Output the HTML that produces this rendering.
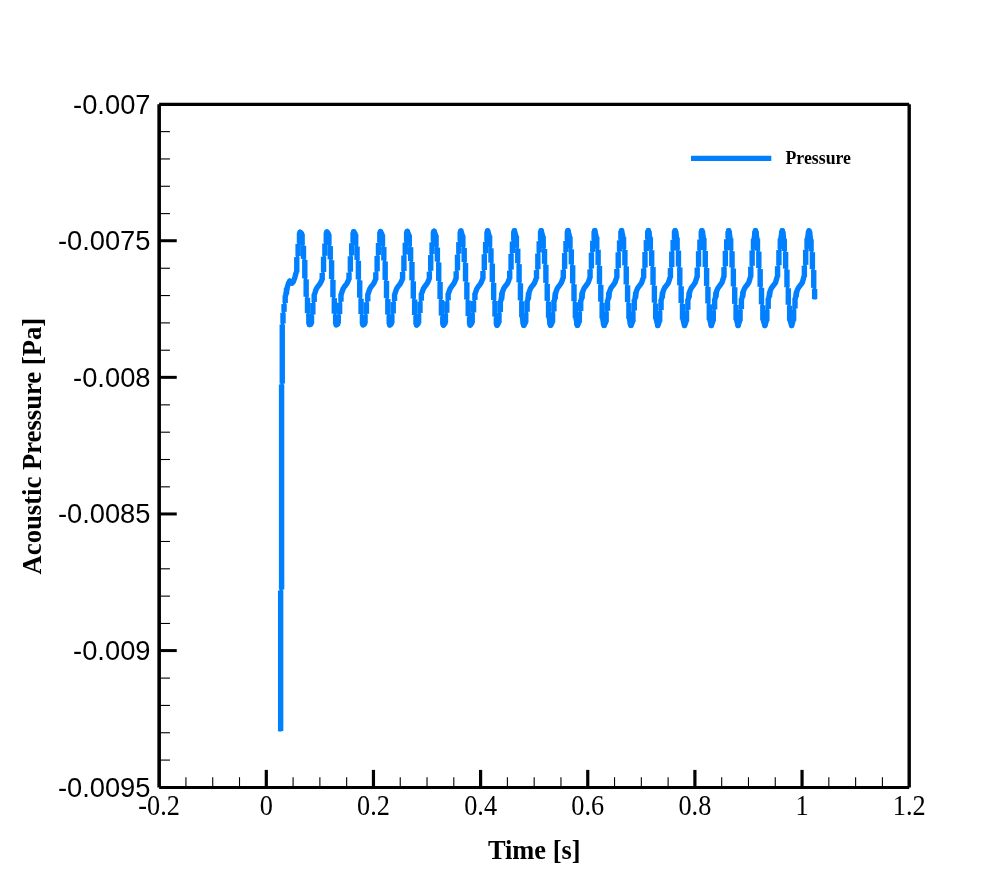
<!DOCTYPE html>
<html><head><meta charset="utf-8"><title>Acoustic Pressure</title>
<style>
html,body{margin:0;padding:0;background:#fff;}
body{width:1000px;height:889px;overflow:hidden;}
svg{display:block;will-change:transform;transform:translateZ(0);}
.ys{font-family:"Liberation Sans",sans-serif;font-size:27.3px;fill:#000;}
.xs{font-family:"Liberation Serif",serif;font-size:29.2px;fill:#000;}
.tt{font-family:"Liberation Serif",serif;font-weight:bold;font-size:27.35px;fill:#000;}
.lg{font-family:"Liberation Serif",serif;font-weight:bold;font-size:17.8px;fill:#000;}
</style></head><body>
<svg width="1000" height="889" viewBox="0 0 1000 889">
<rect width="1000" height="889" fill="#fff"/>
<path d="M285.80 294.80L287.20 287.50L288.60 283.00L289.80 281.20L291.90 283.10L293.50 281.50L294.80 277.50L296.11 272.76M300.12 232.32L301.46 233.36M309.50 324.59L310.84 324.30M314.86 293.28L316.20 289.07L317.54 286.87L318.88 285.25L320.21 283.34L321.55 280.72M326.91 232.07L328.25 233.57M336.29 324.69L337.63 324.19M341.64 293.12L342.98 288.99L344.32 286.83L345.66 285.21L347.00 283.28L348.34 280.57M353.70 231.82L355.04 233.80M363.07 324.79L364.41 324.07M368.43 292.96L369.77 288.92L371.11 286.79L372.45 285.16L373.79 283.22L375.13 280.42M380.48 231.59L381.82 234.04M389.86 324.88L391.20 323.95M395.21 292.80L396.55 288.85L397.89 286.74L399.23 285.11L400.57 283.16L401.91 280.26M407.27 231.37L408.61 234.29M416.64 324.97L417.98 323.82M422.00 292.65L423.34 288.78L424.68 286.70L426.02 285.06L427.36 283.10L428.70 280.10M434.05 231.18L435.39 234.55M443.43 325.04L444.77 323.69M448.79 292.50L450.13 288.71L451.46 286.66L452.80 285.02L454.14 283.04L455.48 279.93M460.84 231.00L462.18 234.81M470.21 325.12L471.55 323.55M475.57 292.36L476.91 288.64L478.25 286.62L479.59 284.97L480.93 282.99L482.27 279.76M487.63 230.86L488.96 235.09M497.00 325.18L498.34 323.40M501.02 300.18L502.36 292.22L503.70 288.57L505.04 286.57L506.38 284.92L507.71 282.94L509.05 279.59M514.41 230.74L515.75 235.38M522.45 317.56L523.79 325.24L525.13 323.24M527.80 299.88L529.14 292.08L530.48 288.50L531.82 286.53L533.16 284.87L534.50 282.89L535.84 279.42M541.20 230.66L542.54 235.67M549.23 318.03L550.57 325.30L551.91 323.08M554.59 299.59L555.93 291.94L557.27 288.44L558.61 286.49L559.95 284.83L561.29 282.84L562.62 279.24M567.98 230.61L569.32 235.97M576.02 318.48L577.36 325.35L578.70 322.91M581.37 299.30L582.71 291.81L584.05 288.37L585.39 286.45L586.73 284.78L588.07 282.80L589.41 279.06M594.77 230.60L596.11 236.27M602.80 318.90L604.14 325.39L605.48 322.73M608.16 299.03L609.50 291.68L610.84 288.31L612.18 286.41L613.52 284.73L614.86 282.75L616.20 278.87M621.55 230.60L622.89 236.59M629.59 319.30L630.93 325.42L632.27 322.55M634.95 298.77L636.29 291.55L637.62 288.25L638.96 286.37L640.30 284.68L641.64 282.70L642.98 278.69M648.34 230.61L649.68 236.90M656.37 319.68L657.71 325.45L659.05 322.35M661.73 298.51L663.07 291.43L664.41 288.19L665.75 286.33L667.09 284.64L668.43 282.66L669.77 278.49M675.12 230.63L676.46 237.22M683.16 320.02L684.50 325.47L685.84 322.15M688.52 298.25L689.86 291.31L691.20 288.13L692.54 286.29L693.87 284.59L695.21 282.61L696.55 278.30M701.91 230.65L703.25 237.55M709.95 320.33L711.29 325.49L712.62 321.94M715.30 298.00L716.64 291.19L717.98 288.07L719.32 286.25L720.66 284.54L722.00 282.57L723.34 278.10M728.70 230.69L730.04 237.88M736.73 320.64L738.07 325.50L739.41 321.72M742.09 297.75L743.43 291.08L744.77 288.01L746.11 286.21L747.45 284.49L748.79 282.52L750.12 277.90M754.14 238.46L755.48 230.73L756.82 238.21M763.52 320.92L764.86 325.50L766.20 321.49M768.87 297.50L770.21 290.96L771.55 287.95L772.89 286.17L774.23 284.44L775.57 282.47L776.91 277.69M780.93 238.15L782.27 230.78L783.61 238.54M790.30 321.20L791.64 325.50L792.98 321.26M795.66 297.26L797.00 290.85L798.34 287.89L799.68 286.12L801.02 284.39L802.36 282.42L803.70 277.48M807.71 237.84L809.05 230.85L810.39 238.87" fill="none" stroke="#007fff" stroke-width="5.4" stroke-linecap="round" stroke-linejoin="round"/>
<path d="M280.10 731.50L281.20 590.00L282.00 384.00L282.50 324.00L283.50 312.30L284.60 303.60L285.80 294.80L287.20 287.50L288.60 283.00L289.80 281.20L291.90 283.10L293.50 281.50L294.80 277.50L296.11 272.76L297.45 256.63L298.79 243.33L300.12 232.32L301.46 233.36L302.80 245.26L304.14 259.33L305.48 278.91L306.82 297.23L308.16 313.62L309.50 324.59L310.84 324.30L312.18 315.00L313.52 302.50L314.86 293.28L316.20 289.07L317.54 286.87L318.88 285.25L320.21 283.34L321.55 280.72L322.89 272.46L324.23 256.22L325.57 243.05L326.91 232.07L328.25 233.57L329.59 245.63L330.93 259.86L332.27 279.40L333.61 297.69L334.95 314.10L336.29 324.69L337.63 324.19L338.96 314.64L340.30 302.16L341.64 293.12L342.98 288.99L344.32 286.83L345.66 285.21L347.00 283.28L348.34 280.57L349.68 272.15L351.02 255.81L352.36 242.76L353.70 231.82L355.04 233.80L356.38 246.00L357.71 260.39L359.05 279.90L360.39 298.15L361.73 314.59L363.07 324.79L364.41 324.07L365.75 314.28L367.09 301.82L368.43 292.96L369.77 288.92L371.11 286.79L372.45 285.16L373.79 283.22L375.13 280.42L376.46 271.83L377.80 255.40L379.14 242.48L380.48 231.59L381.82 234.04L383.16 246.37L384.50 260.93L385.84 280.40L387.18 298.61L388.52 315.09L389.86 324.88L391.20 323.95L392.54 313.93L393.88 301.48L395.21 292.80L396.55 288.85L397.89 286.74L399.23 285.11L400.57 283.16L401.91 280.26L403.25 271.51L404.59 255.00L405.93 242.20L407.27 231.37L408.61 234.29L409.95 246.74L411.29 261.47L412.63 280.89L413.96 299.07L415.30 315.59L416.64 324.97L417.98 323.82L419.32 313.58L420.66 301.14L422.00 292.65L423.34 288.78L424.68 286.70L426.02 285.06L427.36 283.10L428.70 280.10L430.04 271.19L431.38 254.60L432.71 241.92L434.05 231.18L435.39 234.55L436.73 247.10L438.07 262.02L439.41 281.39L440.75 299.52L442.09 316.09L443.43 325.04L444.77 323.69L446.11 313.24L447.45 300.82L448.79 292.50L450.13 288.71L451.46 286.66L452.80 285.02L454.14 283.04L455.48 279.93L456.82 270.85L458.16 254.20L459.50 241.63L460.84 231.00L462.18 234.81L463.52 247.46L464.86 262.57L466.20 281.88L467.54 299.97L468.88 316.59L470.21 325.12L471.55 323.55L472.89 312.90L474.23 300.50L475.57 292.36L476.91 288.64L478.25 286.62L479.59 284.97L480.93 282.99L482.27 279.76L483.61 270.49L484.95 253.80L486.29 241.35L487.63 230.86L488.96 235.09L490.30 247.82L491.64 263.12L492.98 282.37L494.32 300.41L495.66 317.08L497.00 325.18L498.34 323.40L499.68 312.57L501.02 300.18L502.36 292.22L503.70 288.57L505.04 286.57L506.38 284.92L507.71 282.94L509.05 279.59L510.39 270.11L511.73 253.41L513.07 241.07L514.41 230.74L515.75 235.38L517.09 248.18L518.43 263.67L519.77 282.87L521.11 300.86L522.45 317.56L523.79 325.24L525.13 323.24L526.46 312.24L527.80 299.88L529.14 292.08L530.48 288.50L531.82 286.53L533.16 284.87L534.50 282.89L535.84 279.42L537.18 269.73L538.52 253.02L539.86 240.79L541.20 230.66L542.54 235.67L543.88 248.53L545.21 264.23L546.55 283.36L547.89 301.30L549.23 318.03L550.57 325.30L551.91 323.08L553.25 311.91L554.59 299.59L555.93 291.94L557.27 288.44L558.61 286.49L559.95 284.83L561.29 282.84L562.62 279.24L563.96 269.33L565.30 252.63L566.64 240.50L567.98 230.61L569.32 235.97L570.66 248.88L572.00 264.78L573.34 283.85L574.68 301.74L576.02 318.48L577.36 325.35L578.70 322.91L580.04 311.58L581.37 299.30L582.71 291.81L584.05 288.37L585.39 286.45L586.73 284.78L588.07 282.80L589.41 279.06L590.75 268.91L592.09 252.25L593.43 240.22L594.77 230.60L596.11 236.27L597.45 249.22L598.79 265.34L600.12 284.34L601.46 302.17L602.80 318.90L604.14 325.39L605.48 322.73L606.82 311.26L608.16 299.03L609.50 291.68L610.84 288.31L612.18 286.41L613.52 284.73L614.86 282.75L616.20 278.87L617.54 268.49L618.87 251.87L620.21 239.93L621.55 230.60L622.89 236.59L624.23 249.55L625.57 265.89L626.91 284.84L628.25 302.61L629.59 319.30L630.93 325.42L632.27 322.55L633.61 310.93L634.95 298.77L636.29 291.55L637.62 288.25L638.96 286.37L640.30 284.68L641.64 282.70L642.98 278.69L644.32 268.05L645.66 251.49L647.00 239.64L648.34 230.61L649.68 236.90L651.02 249.87L652.36 266.43L653.70 285.33L655.04 303.04L656.37 319.68L657.71 325.45L659.05 322.35L660.39 310.61L661.73 298.51L663.07 291.43L664.41 288.19L665.75 286.33L667.09 284.64L668.43 282.66L669.77 278.49L671.11 267.61L672.45 251.11L673.79 239.35L675.12 230.63L676.46 237.22L677.80 250.19L679.14 266.98L680.48 285.82L681.82 303.47L683.16 320.02L684.50 325.47L685.84 322.15L687.18 310.28L688.52 298.25L689.86 291.31L691.20 288.13L692.54 286.29L693.87 284.59L695.21 282.61L696.55 278.30L697.89 267.15L699.23 250.74L700.57 239.06L701.91 230.65L703.25 237.55L704.59 250.51L705.93 267.51L707.27 286.32L708.61 303.90L709.95 320.33L711.29 325.49L712.62 321.94L713.96 309.96L715.30 298.00L716.64 291.19L717.98 288.07L719.32 286.25L720.66 284.54L722.00 282.57L723.34 278.10L724.68 266.69L726.02 250.37L727.36 238.76L728.70 230.69L730.04 237.88L731.37 250.82L732.71 268.04L734.05 286.81L735.39 304.33L736.73 320.64L738.07 325.50L739.41 321.72L740.75 309.63L742.09 297.75L743.43 291.08L744.77 288.01L746.11 286.21L747.45 284.49L748.79 282.52L750.12 277.90L751.46 266.22L752.80 250.01L754.14 238.46L755.48 230.73L756.82 238.21L758.16 251.13L759.50 268.57L760.84 287.31L762.18 304.76L763.52 320.92L764.86 325.50L766.20 321.49L767.54 309.31L768.87 297.50L770.21 290.96L771.55 287.95L772.89 286.17L774.23 284.44L775.57 282.47L776.91 277.69L778.25 265.75L779.59 249.64L780.93 238.15L782.27 230.78L783.61 238.54L784.95 251.45L786.29 269.08L787.62 287.80L788.96 305.19L790.30 321.20L791.64 325.50L792.98 321.26L794.32 308.99L795.66 297.26L797.00 290.85L798.34 287.89L799.68 286.12L801.02 284.39L802.36 282.42L803.70 277.48L805.04 265.27L806.37 249.28L807.71 237.84L809.05 230.85L810.39 238.87L811.73 251.76L813.07 269.59L814.41 288.29L814.80 299.50" fill="none" stroke="#007fff" stroke-width="3.20" stroke-linecap="butt" stroke-linejoin="round"/><g fill="#007fff"><rect x="277.95" y="590.45" width="5.40" height="140.60"/><rect x="278.90" y="384.45" width="5.40" height="205.10"/><rect x="279.55" y="324.45" width="5.40" height="59.10"/><rect x="280.30" y="312.75" width="5.40" height="10.80"/><rect x="281.35" y="304.05" width="5.40" height="7.80"/><rect x="282.50" y="295.25" width="5.40" height="7.90"/><rect x="283.80" y="287.95" width="5.40" height="6.40"/><rect x="294.08" y="257.08" width="5.40" height="15.24"/><rect x="295.42" y="243.78" width="5.40" height="12.39"/><rect x="296.76" y="232.77" width="5.40" height="10.11"/><rect x="299.43" y="233.81" width="5.40" height="11.00"/><rect x="300.77" y="245.71" width="5.40" height="13.17"/><rect x="302.11" y="259.78" width="5.40" height="18.67"/><rect x="303.45" y="279.36" width="5.40" height="17.42"/><rect x="304.79" y="297.68" width="5.40" height="15.49"/><rect x="306.13" y="314.07" width="5.40" height="10.07"/><rect x="308.81" y="315.45" width="5.40" height="8.41"/><rect x="310.15" y="302.95" width="5.40" height="11.59"/><rect x="311.49" y="293.73" width="5.40" height="8.32"/><rect x="319.52" y="272.91" width="5.40" height="7.36"/><rect x="320.86" y="256.67" width="5.40" height="15.34"/><rect x="322.20" y="243.50" width="5.40" height="12.27"/><rect x="323.54" y="232.52" width="5.40" height="10.08"/><rect x="326.22" y="234.02" width="5.40" height="11.16"/><rect x="327.56" y="246.08" width="5.40" height="13.33"/><rect x="328.90" y="260.31" width="5.40" height="18.65"/><rect x="330.24" y="279.85" width="5.40" height="17.39"/><rect x="331.58" y="298.14" width="5.40" height="15.51"/><rect x="332.92" y="314.55" width="5.40" height="9.69"/><rect x="335.59" y="315.09" width="5.40" height="8.65"/><rect x="336.93" y="302.61" width="5.40" height="11.58"/><rect x="338.27" y="293.57" width="5.40" height="8.14"/><rect x="346.31" y="272.60" width="5.40" height="7.52"/><rect x="347.65" y="256.26" width="5.40" height="15.44"/><rect x="348.99" y="243.21" width="5.40" height="12.14"/><rect x="350.33" y="232.27" width="5.40" height="10.04"/><rect x="353.01" y="234.25" width="5.40" height="11.30"/><rect x="354.34" y="246.45" width="5.40" height="13.49"/><rect x="355.68" y="260.84" width="5.40" height="18.61"/><rect x="357.02" y="280.35" width="5.40" height="17.35"/><rect x="358.36" y="298.60" width="5.40" height="15.54"/><rect x="359.70" y="315.04" width="5.40" height="9.30"/><rect x="362.38" y="314.73" width="5.40" height="8.89"/><rect x="363.72" y="302.27" width="5.40" height="11.57"/><rect x="365.06" y="293.41" width="5.40" height="7.96"/><rect x="373.09" y="272.28" width="5.40" height="7.68"/><rect x="374.43" y="255.85" width="5.40" height="15.53"/><rect x="375.77" y="242.93" width="5.40" height="12.02"/><rect x="377.11" y="232.04" width="5.40" height="9.99"/><rect x="379.79" y="234.49" width="5.40" height="11.43"/><rect x="381.13" y="246.82" width="5.40" height="13.66"/><rect x="382.47" y="261.38" width="5.40" height="18.57"/><rect x="383.81" y="280.85" width="5.40" height="17.31"/><rect x="385.15" y="299.06" width="5.40" height="15.58"/><rect x="386.49" y="315.54" width="5.40" height="8.89"/><rect x="389.17" y="314.38" width="5.40" height="9.12"/><rect x="390.51" y="301.93" width="5.40" height="11.55"/><rect x="391.84" y="293.25" width="5.40" height="7.77"/><rect x="399.88" y="271.96" width="5.40" height="7.84"/><rect x="401.22" y="255.45" width="5.40" height="15.62"/><rect x="402.56" y="242.65" width="5.40" height="11.90"/><rect x="403.90" y="231.82" width="5.40" height="9.92"/><rect x="406.58" y="234.74" width="5.40" height="11.55"/><rect x="407.92" y="247.19" width="5.40" height="13.83"/><rect x="409.26" y="261.92" width="5.40" height="18.52"/><rect x="410.59" y="281.34" width="5.40" height="17.27"/><rect x="411.93" y="299.52" width="5.40" height="15.62"/><rect x="413.27" y="316.04" width="5.40" height="8.48"/><rect x="415.95" y="314.03" width="5.40" height="9.34"/><rect x="417.29" y="301.59" width="5.40" height="11.54"/><rect x="418.63" y="293.10" width="5.40" height="7.59"/><rect x="426.67" y="271.64" width="5.40" height="8.01"/><rect x="428.01" y="255.05" width="5.40" height="15.69"/><rect x="429.34" y="242.37" width="5.40" height="11.78"/><rect x="430.68" y="231.63" width="5.40" height="9.84"/><rect x="433.36" y="235.00" width="5.40" height="11.65"/><rect x="434.70" y="247.55" width="5.40" height="14.02"/><rect x="436.04" y="262.47" width="5.40" height="18.47"/><rect x="437.38" y="281.84" width="5.40" height="17.23"/><rect x="438.72" y="299.97" width="5.40" height="15.67"/><rect x="440.06" y="316.54" width="5.40" height="8.05"/><rect x="442.74" y="313.69" width="5.40" height="9.55"/><rect x="444.08" y="301.27" width="5.40" height="11.52"/><rect x="445.42" y="292.95" width="5.40" height="7.41"/><rect x="453.45" y="271.30" width="5.40" height="8.19"/><rect x="454.79" y="254.65" width="5.40" height="15.75"/><rect x="456.13" y="242.08" width="5.40" height="11.66"/><rect x="457.47" y="231.45" width="5.40" height="9.73"/><rect x="460.15" y="235.26" width="5.40" height="11.75"/><rect x="461.49" y="247.91" width="5.40" height="14.20"/><rect x="462.83" y="263.02" width="5.40" height="18.41"/><rect x="464.17" y="282.33" width="5.40" height="17.19"/><rect x="465.51" y="300.42" width="5.40" height="15.72"/><rect x="466.84" y="317.04" width="5.40" height="7.63"/><rect x="469.52" y="313.35" width="5.40" height="9.75"/><rect x="470.86" y="300.95" width="5.40" height="11.51"/><rect x="472.20" y="292.81" width="5.40" height="7.24"/><rect x="480.24" y="270.94" width="5.40" height="8.38"/><rect x="481.58" y="254.25" width="5.40" height="15.79"/><rect x="482.92" y="241.80" width="5.40" height="11.55"/><rect x="484.26" y="231.31" width="5.40" height="9.60"/><rect x="486.93" y="235.54" width="5.40" height="11.83"/><rect x="488.27" y="248.27" width="5.40" height="14.40"/><rect x="489.61" y="263.57" width="5.40" height="18.35"/><rect x="490.95" y="282.82" width="5.40" height="17.14"/><rect x="492.29" y="300.86" width="5.40" height="15.77"/><rect x="493.63" y="317.53" width="5.40" height="7.20"/><rect x="496.31" y="313.02" width="5.40" height="9.93"/><rect x="497.65" y="300.63" width="5.40" height="11.49"/><rect x="498.99" y="292.67" width="5.40" height="7.07"/><rect x="507.02" y="270.56" width="5.40" height="8.58"/><rect x="508.36" y="253.86" width="5.40" height="15.81"/><rect x="509.70" y="241.52" width="5.40" height="11.44"/><rect x="511.04" y="231.19" width="5.40" height="9.43"/><rect x="513.72" y="235.83" width="5.40" height="11.90"/><rect x="515.06" y="248.63" width="5.40" height="14.59"/><rect x="516.40" y="264.12" width="5.40" height="18.29"/><rect x="517.74" y="283.32" width="5.40" height="17.09"/><rect x="519.08" y="301.31" width="5.40" height="15.80"/><rect x="520.42" y="318.01" width="5.40" height="6.78"/><rect x="523.09" y="312.69" width="5.40" height="10.11"/><rect x="524.43" y="300.33" width="5.40" height="11.46"/><rect x="525.77" y="292.53" width="5.40" height="6.90"/><rect x="533.81" y="270.18" width="5.40" height="8.79"/><rect x="535.15" y="253.47" width="5.40" height="15.81"/><rect x="536.49" y="241.24" width="5.40" height="11.33"/><rect x="537.83" y="231.11" width="5.40" height="9.23"/><rect x="540.51" y="236.12" width="5.40" height="11.97"/><rect x="541.84" y="248.98" width="5.40" height="14.80"/><rect x="543.18" y="264.68" width="5.40" height="18.23"/><rect x="544.52" y="283.81" width="5.40" height="17.04"/><rect x="545.86" y="301.75" width="5.40" height="15.83"/><rect x="547.20" y="318.48" width="5.40" height="6.37"/><rect x="549.88" y="312.36" width="5.40" height="10.27"/><rect x="551.22" y="300.04" width="5.40" height="11.43"/><rect x="552.56" y="292.39" width="5.40" height="6.74"/><rect x="560.59" y="269.78" width="5.40" height="9.01"/><rect x="561.93" y="253.08" width="5.40" height="15.79"/><rect x="563.27" y="240.95" width="5.40" height="11.23"/><rect x="564.61" y="231.06" width="5.40" height="9.00"/><rect x="567.29" y="236.42" width="5.40" height="12.01"/><rect x="568.63" y="249.33" width="5.40" height="15.00"/><rect x="569.97" y="265.23" width="5.40" height="18.17"/><rect x="571.31" y="284.30" width="5.40" height="16.98"/><rect x="572.65" y="302.19" width="5.40" height="15.84"/><rect x="573.99" y="318.93" width="5.40" height="5.97"/><rect x="576.67" y="312.03" width="5.40" height="10.43"/><rect x="578.01" y="299.75" width="5.40" height="11.38"/><rect x="579.34" y="292.26" width="5.40" height="6.59"/><rect x="587.38" y="269.36" width="5.40" height="9.25"/><rect x="588.72" y="252.70" width="5.40" height="15.76"/><rect x="590.06" y="240.67" width="5.40" height="11.13"/><rect x="591.40" y="231.05" width="5.40" height="8.72"/><rect x="594.08" y="236.72" width="5.40" height="12.04"/><rect x="595.42" y="249.67" width="5.40" height="15.22"/><rect x="596.76" y="265.79" width="5.40" height="18.11"/><rect x="598.09" y="284.79" width="5.40" height="16.93"/><rect x="599.43" y="302.62" width="5.40" height="15.83"/><rect x="600.77" y="319.35" width="5.40" height="5.58"/><rect x="603.45" y="311.71" width="5.40" height="10.58"/><rect x="604.79" y="299.48" width="5.40" height="11.32"/><rect x="606.13" y="292.13" width="5.40" height="6.45"/><rect x="614.17" y="268.94" width="5.40" height="9.49"/><rect x="615.51" y="252.32" width="5.40" height="15.72"/><rect x="616.84" y="240.38" width="5.40" height="11.03"/><rect x="618.18" y="231.05" width="5.40" height="8.43"/><rect x="620.86" y="237.04" width="5.40" height="12.06"/><rect x="622.20" y="250.00" width="5.40" height="15.44"/><rect x="623.54" y="266.34" width="5.40" height="18.05"/><rect x="624.88" y="285.29" width="5.40" height="16.87"/><rect x="626.22" y="303.06" width="5.40" height="15.80"/><rect x="627.56" y="319.75" width="5.40" height="5.22"/><rect x="630.24" y="311.38" width="5.40" height="10.72"/><rect x="631.58" y="299.22" width="5.40" height="11.26"/><rect x="632.92" y="292.00" width="5.40" height="6.31"/><rect x="640.95" y="268.50" width="5.40" height="9.73"/><rect x="642.29" y="251.94" width="5.40" height="15.66"/><rect x="643.63" y="240.09" width="5.40" height="10.94"/><rect x="644.97" y="231.06" width="5.40" height="8.14"/><rect x="646.31" y="231.06" width="5.40" height="5.39"/><rect x="647.65" y="237.35" width="5.40" height="12.07"/><rect x="648.99" y="250.32" width="5.40" height="15.66"/><rect x="650.33" y="266.88" width="5.40" height="18.00"/><rect x="651.67" y="285.78" width="5.40" height="16.81"/><rect x="653.01" y="303.49" width="5.40" height="15.73"/><rect x="657.02" y="311.06" width="5.40" height="10.85"/><rect x="658.36" y="298.96" width="5.40" height="11.20"/><rect x="659.70" y="291.88" width="5.40" height="6.18"/><rect x="667.74" y="268.06" width="5.40" height="9.99"/><rect x="669.08" y="251.56" width="5.40" height="15.59"/><rect x="670.42" y="239.80" width="5.40" height="10.86"/><rect x="671.76" y="231.08" width="5.40" height="7.83"/><rect x="673.09" y="231.08" width="5.40" height="5.70"/><rect x="674.43" y="237.67" width="5.40" height="12.07"/><rect x="675.77" y="250.64" width="5.40" height="15.89"/><rect x="677.11" y="267.43" width="5.40" height="17.95"/><rect x="678.45" y="286.27" width="5.40" height="16.75"/><rect x="679.79" y="303.92" width="5.40" height="15.64"/><rect x="683.81" y="310.73" width="5.40" height="10.97"/><rect x="685.15" y="298.70" width="5.40" height="11.13"/><rect x="686.49" y="291.76" width="5.40" height="6.04"/><rect x="694.52" y="267.60" width="5.40" height="10.25"/><rect x="695.86" y="251.19" width="5.40" height="15.51"/><rect x="697.20" y="239.51" width="5.40" height="10.78"/><rect x="698.54" y="231.10" width="5.40" height="7.51"/><rect x="699.88" y="231.10" width="5.40" height="5.99"/><rect x="701.22" y="238.00" width="5.40" height="12.06"/><rect x="702.56" y="250.96" width="5.40" height="16.11"/><rect x="703.90" y="267.96" width="5.40" height="17.91"/><rect x="705.24" y="286.77" width="5.40" height="16.69"/><rect x="706.58" y="304.35" width="5.40" height="15.53"/><rect x="710.59" y="310.41" width="5.40" height="11.08"/><rect x="711.93" y="298.45" width="5.40" height="11.06"/><rect x="713.27" y="291.64" width="5.40" height="5.90"/><rect x="721.31" y="267.14" width="5.40" height="10.51"/><rect x="722.65" y="250.82" width="5.40" height="15.42"/><rect x="723.99" y="239.21" width="5.40" height="10.71"/><rect x="725.33" y="231.14" width="5.40" height="7.17"/><rect x="726.67" y="231.14" width="5.40" height="6.29"/><rect x="728.01" y="238.33" width="5.40" height="12.04"/><rect x="729.34" y="251.27" width="5.40" height="16.32"/><rect x="730.68" y="268.49" width="5.40" height="17.87"/><rect x="732.02" y="287.26" width="5.40" height="16.62"/><rect x="733.36" y="304.78" width="5.40" height="15.40"/><rect x="737.38" y="310.08" width="5.40" height="11.19"/><rect x="738.72" y="298.20" width="5.40" height="10.99"/><rect x="740.06" y="291.53" width="5.40" height="5.77"/><rect x="748.09" y="266.67" width="5.40" height="10.77"/><rect x="749.43" y="250.46" width="5.40" height="15.32"/><rect x="750.77" y="238.91" width="5.40" height="10.64"/><rect x="752.11" y="231.18" width="5.40" height="6.83"/><rect x="753.45" y="231.18" width="5.40" height="6.57"/><rect x="754.79" y="238.66" width="5.40" height="12.03"/><rect x="756.13" y="251.58" width="5.40" height="16.53"/><rect x="757.47" y="269.02" width="5.40" height="17.84"/><rect x="758.81" y="287.76" width="5.40" height="16.55"/><rect x="760.15" y="305.21" width="5.40" height="15.26"/><rect x="764.17" y="309.76" width="5.40" height="11.28"/><rect x="765.51" y="297.95" width="5.40" height="10.91"/><rect x="766.84" y="291.41" width="5.40" height="5.64"/><rect x="774.88" y="266.20" width="5.40" height="11.04"/><rect x="776.22" y="250.09" width="5.40" height="15.21"/><rect x="777.56" y="238.60" width="5.40" height="10.59"/><rect x="778.90" y="231.23" width="5.40" height="6.47"/><rect x="780.24" y="231.23" width="5.40" height="6.85"/><rect x="781.58" y="238.99" width="5.40" height="12.01"/><rect x="782.92" y="251.90" width="5.40" height="16.73"/><rect x="784.26" y="269.53" width="5.40" height="17.82"/><rect x="785.59" y="288.25" width="5.40" height="16.49"/><rect x="786.93" y="305.64" width="5.40" height="15.11"/><rect x="790.95" y="309.44" width="5.40" height="11.37"/><rect x="792.29" y="297.71" width="5.40" height="10.83"/><rect x="793.63" y="291.30" width="5.40" height="5.51"/><rect x="801.67" y="265.72" width="5.40" height="11.31"/><rect x="803.01" y="249.73" width="5.40" height="15.09"/><rect x="804.34" y="238.29" width="5.40" height="10.54"/><rect x="805.68" y="231.30" width="5.40" height="6.09"/><rect x="807.02" y="231.30" width="5.40" height="7.13"/><rect x="808.36" y="239.32" width="5.40" height="11.99"/><rect x="809.70" y="252.21" width="5.40" height="16.93"/><rect x="811.04" y="270.04" width="5.40" height="17.80"/><rect x="811.91" y="288.74" width="5.40" height="10.31"/><circle cx="289.80" cy="281.20" r="2.70"/><circle cx="291.90" cy="283.10" r="2.70"/><circle cx="300.12" cy="232.32" r="2.70"/><circle cx="309.50" cy="324.59" r="2.70"/><circle cx="326.91" cy="232.07" r="2.70"/><circle cx="336.29" cy="324.69" r="2.70"/><circle cx="353.70" cy="231.82" r="2.70"/><circle cx="363.07" cy="324.79" r="2.70"/><circle cx="380.48" cy="231.59" r="2.70"/><circle cx="389.86" cy="324.88" r="2.70"/><circle cx="407.27" cy="231.37" r="2.70"/><circle cx="416.64" cy="324.97" r="2.70"/><circle cx="434.05" cy="231.18" r="2.70"/><circle cx="443.43" cy="325.04" r="2.70"/><circle cx="460.84" cy="231.00" r="2.70"/><circle cx="470.21" cy="325.12" r="2.70"/><circle cx="487.63" cy="230.86" r="2.70"/><circle cx="497.00" cy="325.18" r="2.70"/><circle cx="514.41" cy="230.74" r="2.70"/><circle cx="523.79" cy="325.24" r="2.70"/><circle cx="541.20" cy="230.66" r="2.70"/><circle cx="550.57" cy="325.30" r="2.70"/><circle cx="567.98" cy="230.61" r="2.70"/><circle cx="577.36" cy="325.35" r="2.70"/><circle cx="594.77" cy="230.60" r="2.70"/><circle cx="604.14" cy="325.39" r="2.70"/><circle cx="621.55" cy="230.60" r="2.70"/><circle cx="630.93" cy="325.42" r="2.70"/><circle cx="648.34" cy="230.61" r="2.70"/><circle cx="657.71" cy="325.45" r="2.70"/><circle cx="675.12" cy="230.63" r="2.70"/><circle cx="684.50" cy="325.47" r="2.70"/><circle cx="701.91" cy="230.65" r="2.70"/><circle cx="711.29" cy="325.49" r="2.70"/><circle cx="728.70" cy="230.69" r="2.70"/><circle cx="738.07" cy="325.50" r="2.70"/><circle cx="755.48" cy="230.73" r="2.70"/><circle cx="764.86" cy="325.50" r="2.70"/><circle cx="782.27" cy="230.78" r="2.70"/><circle cx="791.64" cy="325.50" r="2.70"/><circle cx="809.05" cy="230.85" r="2.70"/></g>
<line x1="691" y1="158.35" x2="771.3" y2="158.35" stroke="#007fff" stroke-width="5.1"/>
<text x="785.5" y="164.2" class="lg">Pressure</text>
<g stroke="#000" fill="none">
<line x1="159.15" y1="240.72" x2="176.75" y2="240.72" stroke-width="3"/>
<line x1="159.15" y1="377.34" x2="176.75" y2="377.34" stroke-width="3"/>
<line x1="159.15" y1="513.96" x2="176.75" y2="513.96" stroke-width="3"/>
<line x1="159.15" y1="650.58" x2="176.75" y2="650.58" stroke-width="3"/>
<line x1="159.15" y1="131.62" x2="169.95" y2="131.62" stroke-width="1.1"/>
<line x1="159.15" y1="158.95" x2="169.95" y2="158.95" stroke-width="1.1"/>
<line x1="159.15" y1="186.27" x2="169.95" y2="186.27" stroke-width="1.1"/>
<line x1="159.15" y1="213.60" x2="169.95" y2="213.60" stroke-width="1.1"/>
<line x1="159.15" y1="268.24" x2="169.95" y2="268.24" stroke-width="1.1"/>
<line x1="159.15" y1="295.57" x2="169.95" y2="295.57" stroke-width="1.1"/>
<line x1="159.15" y1="322.89" x2="169.95" y2="322.89" stroke-width="1.1"/>
<line x1="159.15" y1="350.22" x2="169.95" y2="350.22" stroke-width="1.1"/>
<line x1="159.15" y1="404.86" x2="169.95" y2="404.86" stroke-width="1.1"/>
<line x1="159.15" y1="432.19" x2="169.95" y2="432.19" stroke-width="1.1"/>
<line x1="159.15" y1="459.51" x2="169.95" y2="459.51" stroke-width="1.1"/>
<line x1="159.15" y1="486.84" x2="169.95" y2="486.84" stroke-width="1.1"/>
<line x1="159.15" y1="541.48" x2="169.95" y2="541.48" stroke-width="1.1"/>
<line x1="159.15" y1="568.81" x2="169.95" y2="568.81" stroke-width="1.1"/>
<line x1="159.15" y1="596.13" x2="169.95" y2="596.13" stroke-width="1.1"/>
<line x1="159.15" y1="623.46" x2="169.95" y2="623.46" stroke-width="1.1"/>
<line x1="159.15" y1="678.10" x2="169.95" y2="678.10" stroke-width="1.1"/>
<line x1="159.15" y1="705.43" x2="169.95" y2="705.43" stroke-width="1.1"/>
<line x1="159.15" y1="732.75" x2="169.95" y2="732.75" stroke-width="1.1"/>
<line x1="159.15" y1="760.08" x2="169.95" y2="760.08" stroke-width="1.1"/>
<line x1="266.30" y1="787.4" x2="266.30" y2="769.90" stroke-width="3.2"/>
<line x1="373.45" y1="787.4" x2="373.45" y2="769.90" stroke-width="3.2"/>
<line x1="480.60" y1="787.4" x2="480.60" y2="769.90" stroke-width="3.2"/>
<line x1="587.75" y1="787.4" x2="587.75" y2="769.90" stroke-width="3.2"/>
<line x1="694.90" y1="787.4" x2="694.90" y2="769.90" stroke-width="3.2"/>
<line x1="802.05" y1="787.4" x2="802.05" y2="769.90" stroke-width="3.2"/>
<line x1="185.94" y1="787.4" x2="185.94" y2="777.20" stroke-width="1.1"/>
<line x1="212.73" y1="787.4" x2="212.73" y2="777.20" stroke-width="1.1"/>
<line x1="239.51" y1="787.4" x2="239.51" y2="777.20" stroke-width="1.1"/>
<line x1="293.09" y1="787.4" x2="293.09" y2="777.20" stroke-width="1.1"/>
<line x1="319.88" y1="787.4" x2="319.88" y2="777.20" stroke-width="1.1"/>
<line x1="346.66" y1="787.4" x2="346.66" y2="777.20" stroke-width="1.1"/>
<line x1="400.24" y1="787.4" x2="400.24" y2="777.20" stroke-width="1.1"/>
<line x1="427.03" y1="787.4" x2="427.03" y2="777.20" stroke-width="1.1"/>
<line x1="453.81" y1="787.4" x2="453.81" y2="777.20" stroke-width="1.1"/>
<line x1="507.39" y1="787.4" x2="507.39" y2="777.20" stroke-width="1.1"/>
<line x1="534.18" y1="787.4" x2="534.18" y2="777.20" stroke-width="1.1"/>
<line x1="560.96" y1="787.4" x2="560.96" y2="777.20" stroke-width="1.1"/>
<line x1="614.54" y1="787.4" x2="614.54" y2="777.20" stroke-width="1.1"/>
<line x1="641.33" y1="787.4" x2="641.33" y2="777.20" stroke-width="1.1"/>
<line x1="668.11" y1="787.4" x2="668.11" y2="777.20" stroke-width="1.1"/>
<line x1="721.69" y1="787.4" x2="721.69" y2="777.20" stroke-width="1.1"/>
<line x1="748.48" y1="787.4" x2="748.48" y2="777.20" stroke-width="1.1"/>
<line x1="775.26" y1="787.4" x2="775.26" y2="777.20" stroke-width="1.1"/>
<line x1="828.84" y1="787.4" x2="828.84" y2="777.20" stroke-width="1.1"/>
<line x1="855.63" y1="787.4" x2="855.63" y2="777.20" stroke-width="1.1"/>
<line x1="882.41" y1="787.4" x2="882.41" y2="777.20" stroke-width="1.1"/>
<line x1="159.15" y1="104.3" x2="159.15" y2="787.4" stroke-width="3.6"/>
<line x1="159.15" y1="104.3" x2="909.2" y2="104.3" stroke-width="3.2"/>
<line x1="909.2" y1="104.3" x2="909.2" y2="787.4" stroke-width="3.4"/>
<line x1="159.15" y1="787.4" x2="909.2" y2="787.4" stroke-width="3.0"/>
</g>
<text x="150.5" y="113.50" text-anchor="end" class="ys">-0.007</text>
<text x="150.5" y="250.12" text-anchor="end" class="ys">-0.0075</text>
<text x="150.5" y="386.74" text-anchor="end" class="ys">-0.008</text>
<text x="150.5" y="523.36" text-anchor="end" class="ys">-0.0085</text>
<text x="150.5" y="659.98" text-anchor="end" class="ys">-0.009</text>
<text x="150.5" y="796.60" text-anchor="end" class="ys">-0.0095</text>
<text transform="translate(159.15 815) scale(0.9 1)" text-anchor="middle" class="xs">-0.2</text>
<text transform="translate(266.30 815) scale(0.9 1)" text-anchor="middle" class="xs">0</text>
<text transform="translate(373.45 815) scale(0.9 1)" text-anchor="middle" class="xs">0.2</text>
<text transform="translate(480.60 815) scale(0.9 1)" text-anchor="middle" class="xs">0.4</text>
<text transform="translate(587.75 815) scale(0.9 1)" text-anchor="middle" class="xs">0.6</text>
<text transform="translate(694.90 815) scale(0.9 1)" text-anchor="middle" class="xs">0.8</text>
<text transform="translate(802.05 815) scale(0.9 1)" text-anchor="middle" class="xs">1</text>
<text transform="translate(909.20 815) scale(0.9 1)" text-anchor="middle" class="xs">1.2</text>
<text transform="translate(534.2 859.2) scale(0.965 1)" text-anchor="middle" class="tt">Time [s]</text>
<text transform="translate(40.8 446.1) rotate(-90) scale(0.975 1)" text-anchor="middle" class="tt">Acoustic Pressure [Pa]</text>
</svg>
</body></html>
